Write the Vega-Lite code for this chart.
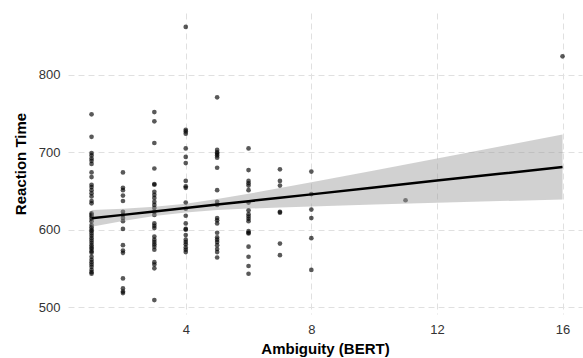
{
  "$schema": "https://vega.github.io/schema/vega-lite/v6.json",
  "width": 514,
  "height": 301,
  "autosize": {"type": "none"},
  "padding": {"left": 68, "top": 13, "right": 1, "bottom": 44},
  "background": "white",
  "config": {
    "view": {"stroke": null},
    "font": "Liberation Sans",
    "axis": {
      "domain": false,
      "ticks": false,
      "grid": true,
      "gridColor": "#e0e0e0",
      "gridDash": [6, 4],
      "gridWidth": 1,
      "labelFont": "Liberation Sans",
      "labelFontSize": 13,
      "labelColor": "#333333",
      "titleFont": "Liberation Sans",
      "titleFontSize": 15,
      "titleFontWeight": "bold",
      "titleColor": "#000000"
    }
  },
  "datasets": {
    "pts": [
      {"amb": 1, "rt": 749}, {"amb": 1, "rt": 720}, {"amb": 1, "rt": 699}, {"amb": 1, "rt": 696}, {"amb": 1, "rt": 692},
      {"amb": 1, "rt": 689}, {"amb": 1, "rt": 685}, {"amb": 1, "rt": 674}, {"amb": 1, "rt": 668}, {"amb": 1, "rt": 658},
      {"amb": 1, "rt": 655}, {"amb": 1, "rt": 651}, {"amb": 1, "rt": 647}, {"amb": 1, "rt": 643}, {"amb": 1, "rt": 637},
      {"amb": 1, "rt": 634}, {"amb": 1, "rt": 621}, {"amb": 1, "rt": 619}, {"amb": 1, "rt": 617}, {"amb": 1, "rt": 614},
      {"amb": 1, "rt": 611}, {"amb": 1, "rt": 606}, {"amb": 1, "rt": 603}, {"amb": 1, "rt": 600}, {"amb": 1, "rt": 598},
      {"amb": 1, "rt": 595}, {"amb": 1, "rt": 592}, {"amb": 1, "rt": 589}, {"amb": 1, "rt": 586}, {"amb": 1, "rt": 583},
      {"amb": 1, "rt": 580}, {"amb": 1, "rt": 577}, {"amb": 1, "rt": 575}, {"amb": 1, "rt": 572}, {"amb": 1, "rt": 570},
      {"amb": 1, "rt": 565}, {"amb": 1, "rt": 561}, {"amb": 1, "rt": 558}, {"amb": 1, "rt": 555}, {"amb": 1, "rt": 552},
      {"amb": 1, "rt": 548}, {"amb": 1, "rt": 545}, {"amb": 1, "rt": 543},
      {"amb": 2, "rt": 674}, {"amb": 2, "rt": 654}, {"amb": 2, "rt": 651}, {"amb": 2, "rt": 644}, {"amb": 2, "rt": 637},
      {"amb": 2, "rt": 623}, {"amb": 2, "rt": 619}, {"amb": 2, "rt": 615}, {"amb": 2, "rt": 611}, {"amb": 2, "rt": 601},
      {"amb": 2, "rt": 580}, {"amb": 2, "rt": 573}, {"amb": 2, "rt": 570}, {"amb": 2, "rt": 537}, {"amb": 2, "rt": 524},
      {"amb": 2, "rt": 520}, {"amb": 2, "rt": 518},
      {"amb": 3, "rt": 752}, {"amb": 3, "rt": 740}, {"amb": 3, "rt": 712}, {"amb": 3, "rt": 679}, {"amb": 3, "rt": 659},
      {"amb": 3, "rt": 658}, {"amb": 3, "rt": 649}, {"amb": 3, "rt": 645}, {"amb": 3, "rt": 641}, {"amb": 3, "rt": 636},
      {"amb": 3, "rt": 632}, {"amb": 3, "rt": 628}, {"amb": 3, "rt": 623}, {"amb": 3, "rt": 619}, {"amb": 3, "rt": 608},
      {"amb": 3, "rt": 605}, {"amb": 3, "rt": 602}, {"amb": 3, "rt": 591}, {"amb": 3, "rt": 587}, {"amb": 3, "rt": 584},
      {"amb": 3, "rt": 581}, {"amb": 3, "rt": 578}, {"amb": 3, "rt": 574}, {"amb": 3, "rt": 558}, {"amb": 3, "rt": 555},
      {"amb": 3, "rt": 550}, {"amb": 3, "rt": 509},
      {"amb": 4, "rt": 862}, {"amb": 4, "rt": 729}, {"amb": 4, "rt": 727}, {"amb": 4, "rt": 724}, {"amb": 4, "rt": 705},
      {"amb": 4, "rt": 694}, {"amb": 4, "rt": 686}, {"amb": 4, "rt": 663}, {"amb": 4, "rt": 656}, {"amb": 4, "rt": 654},
      {"amb": 4, "rt": 635}, {"amb": 4, "rt": 627}, {"amb": 4, "rt": 618}, {"amb": 4, "rt": 608}, {"amb": 4, "rt": 601},
      {"amb": 4, "rt": 600}, {"amb": 4, "rt": 593}, {"amb": 4, "rt": 587}, {"amb": 4, "rt": 584}, {"amb": 4, "rt": 581},
      {"amb": 4, "rt": 577}, {"amb": 4, "rt": 574}, {"amb": 4, "rt": 571},
      {"amb": 5, "rt": 771}, {"amb": 5, "rt": 703}, {"amb": 5, "rt": 700}, {"amb": 5, "rt": 698}, {"amb": 5, "rt": 696},
      {"amb": 5, "rt": 693}, {"amb": 5, "rt": 680}, {"amb": 5, "rt": 651}, {"amb": 5, "rt": 636}, {"amb": 5, "rt": 632},
      {"amb": 5, "rt": 615}, {"amb": 5, "rt": 612}, {"amb": 5, "rt": 608}, {"amb": 5, "rt": 596}, {"amb": 5, "rt": 590},
      {"amb": 5, "rt": 587}, {"amb": 5, "rt": 584}, {"amb": 5, "rt": 580}, {"amb": 5, "rt": 575}, {"amb": 5, "rt": 571},
      {"amb": 5, "rt": 564},
      {"amb": 6, "rt": 705}, {"amb": 6, "rt": 677}, {"amb": 6, "rt": 663}, {"amb": 6, "rt": 660}, {"amb": 6, "rt": 657},
      {"amb": 6, "rt": 651}, {"amb": 6, "rt": 635}, {"amb": 6, "rt": 625}, {"amb": 6, "rt": 620}, {"amb": 6, "rt": 617},
      {"amb": 6, "rt": 614}, {"amb": 6, "rt": 611}, {"amb": 6, "rt": 598}, {"amb": 6, "rt": 596}, {"amb": 6, "rt": 595},
      {"amb": 6, "rt": 578}, {"amb": 6, "rt": 565}, {"amb": 6, "rt": 553}, {"amb": 6, "rt": 543},
      {"amb": 7, "rt": 678}, {"amb": 7, "rt": 663}, {"amb": 7, "rt": 657}, {"amb": 7, "rt": 623}, {"amb": 7, "rt": 622},
      {"amb": 7, "rt": 582}, {"amb": 7, "rt": 567},
      {"amb": 8, "rt": 675}, {"amb": 8, "rt": 646}, {"amb": 8, "rt": 626}, {"amb": 8, "rt": 615}, {"amb": 8, "rt": 589},
      {"amb": 8, "rt": 548},
      {"amb": 11, "rt": 638},
      {"amb": 16, "rt": 824}
    ],
    "fit": [
      {"amb": 1, "fit": 614.6, "lo": 603.9, "hi": 625.3},
      {"amb": 2, "fit": 619.1, "lo": 611.1, "hi": 627.1},
      {"amb": 3, "fit": 623.5, "lo": 617.5, "hi": 629.6},
      {"amb": 4, "fit": 627.9, "lo": 622.3, "hi": 633.6},
      {"amb": 5, "fit": 632.4, "lo": 625.3, "hi": 639.5},
      {"amb": 6, "fit": 636.8, "lo": 627.2, "hi": 646.4},
      {"amb": 7, "fit": 641.2, "lo": 628.7, "hi": 653.7},
      {"amb": 8, "fit": 645.6, "lo": 630.0, "hi": 661.2},
      {"amb": 10, "fit": 654.5, "lo": 632.5, "hi": 676.5},
      {"amb": 12, "fit": 663.4, "lo": 634.8, "hi": 692.0},
      {"amb": 14, "fit": 672.2, "lo": 636.9, "hi": 707.5},
      {"amb": 16, "fit": 681.1, "lo": 639.1, "hi": 723.1}
    ]
  },
  "layer": [
    {
      "data": {"name": "pts"},
      "mark": {"type": "circle", "size": 22, "color": "#000000", "opacity": 0.65},
      "encoding": {
        "x": {"field": "amb", "type": "quantitative", "scale": {"domain": [0.25, 16.62], "nice": false, "zero": false},
              "axis": {"values": [4, 8, 12, 16], "title": "Ambiguity (BERT)", "labelPadding": 9, "titlePadding": 5}},
        "y": {"field": "rt", "type": "quantitative", "scale": {"domain": [491, 880], "nice": false, "zero": false},
              "axis": {"values": [500, 600, 700, 800], "title": "Reaction Time", "labelPadding": 8, "titlePadding": 10}}
      }
    },
    {
      "data": {"name": "fit"},
      "mark": {"type": "area", "color": "#999999", "opacity": 0.45},
      "encoding": {
        "x": {"field": "amb", "type": "quantitative"},
        "y": {"field": "lo", "type": "quantitative"},
        "y2": {"field": "hi"}
      }
    },
    {
      "data": {"name": "fit"},
      "mark": {"type": "line", "color": "#000000", "strokeWidth": 2.5},
      "encoding": {
        "x": {"field": "amb", "type": "quantitative"},
        "y": {"field": "fit", "type": "quantitative"}
      }
    }
  ]
}
